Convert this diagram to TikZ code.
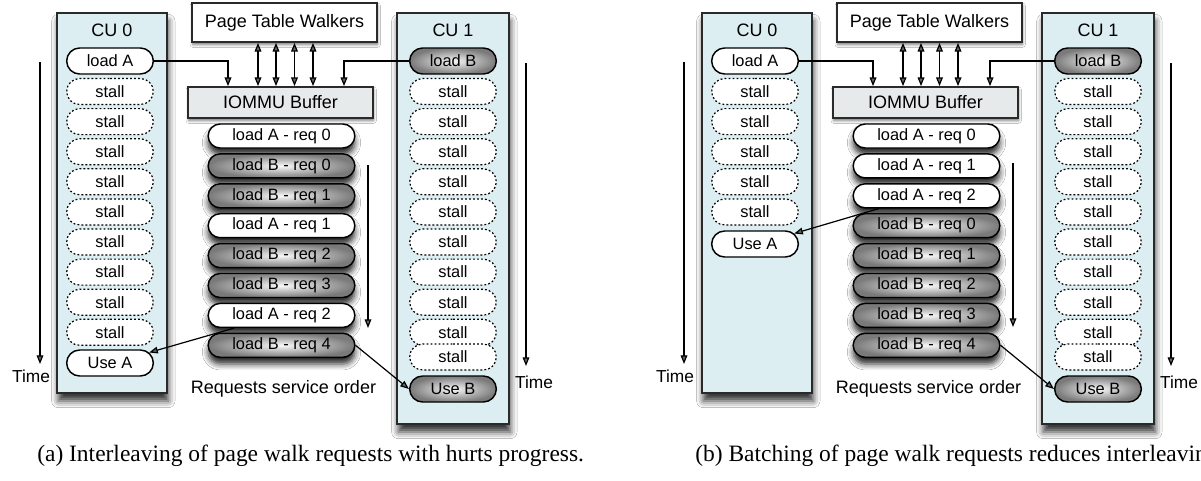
\documentclass[tikz,border=0pt]{standalone}
\usepackage{fontspec}
\setmainfont{Liberation Sans}
\newfontfamily\captionserif{Liberation Serif}
\usetikzlibrary{shapes.misc,arrows.meta,shadows.blur}
\definecolor{cubg}{HTML}{DCEEF1}
\definecolor{bufbg}{HTML}{E6EAEA}
\definecolor{edge}{HTML}{2A2A2A}

\begin{document}
\begin{tikzpicture}[x=0.75pt,y=-0.75pt,
  cubox/.style={draw=edge,line width=1.3pt,fill=cubg,
    blur shadow={shadow xshift=1pt,shadow yshift=-6pt,shadow blur radius=5pt,shadow opacity=80}},
  topbox/.style={draw=edge,line width=1.3pt,
    blur shadow={shadow xshift=0.5pt,shadow yshift=-2pt,shadow blur radius=2pt,shadow opacity=50}},
  lbl/.style={font=\fontsize{13.5}{16}\selectfont},
  timelbl/.style={font=\fontsize{13}{15}\selectfont},
  pill/.style={rounded rectangle,draw=black,line width=1.1pt,minimum width=65pt,
    minimum height=19.5pt,inner sep=0pt,font=\fontsize{12.3}{14}\selectfont},
  plainpill/.style={pill,fill=white},
  graypill/.style={pill,inner color=gray!5,outer color=black!52},
  stallbox/.style={pill,fill=white,line width=0.9pt,dash pattern=on 1.4pt off 1.6pt},
  req/.style={pill,minimum width=110pt,minimum height=18pt,
    blur shadow={shadow xshift=0pt,shadow yshift=-5pt,shadow blur radius=4.5pt,shadow opacity=85}},
  reqa/.style={req,fill=white},
  reqb/.style={req,inner color=gray!5,outer color=black!52},
  arr/.style={-{Triangle[length=6.5pt,width=5pt]},line width=0.9pt},
  dbl/.style={{Triangle[length=6.5pt,width=5pt]}-{Triangle[length=6.5pt,width=5pt]},line width=0.9pt},
  capt/.style={anchor=west,inner sep=0pt,font=\captionserif\fontsize{17.6}{20}\selectfont},
]
\fill[white] (0,0) rectangle (1201,480);
\useasboundingbox (0,0) rectangle (1201,480);

% ---------------- (a) interleaved requests ----------------
\begin{scope}
  % compute units
  \path[cubox] (57,13) rectangle (167,393);
  \path[cubox] (397,13) rectangle (509,424);
  \node[lbl] (acu0) at (112,30) {CU 0};
  \node[lbl] (acu1) at (453,30) {CU 1};

  \node[plainpill] (aldA) at (110,61) {load A};
  \foreach \i in {0,...,8} \node[stallbox] (aa\i) at (110,{91.5+30.1*\i}) {stall};
  \node[plainpill] (auseA) at (110,363) {Use A};

  \node[graypill] (aldB) at (453,61) {load B};
  \foreach \i in {0,...,8} \node[stallbox] (ab\i) at (453,{91.5+30.1*\i}) {stall};
  \node[stallbox] (ab9) at (453,357) {stall};
  \node[graypill] (auseB) at (453,389) {Use B};

  % walkers and buffer
  \node[topbox,fill=white,minimum width=138.75pt,minimum height=29.25pt,inner sep=0pt,lbl]
    (aptw) at (284.5,22.5) {Page Table Walkers};
  \node[topbox,fill=bufbg,minimum width=138.75pt,minimum height=23.25pt,inner sep=0pt,lbl]
    (abuf) at (280.5,102.5) {IOMMU Buffer};
  \foreach \x [count=\k] in {258,276,294.5,313} {
    \coordinate (aw\k) at (\x,0);
    \draw[dbl] (aptw.south -| aw\k) -- (abuf.north -| aw\k);
  }
  \coordinate (ainA) at (228,0);
  \coordinate (ainB) at (344,0);
  \draw[arr] (aldA.east) -| (abuf.north -| ainA);
  \draw[arr] (aldB.west) -| (abuf.north -| ainB);

  % service order
  \node[reqa] (ar0) at (281.5,136)   {load A - req 0};
  \node[reqb] (ar1) at (281.5,165.9) {load B - req 0};
  \node[reqb] (ar2) at (281.5,195.8) {load B - req 1};
  \node[reqa] (ar3) at (281.5,225.7) {load A - req 1};
  \node[reqb] (ar4) at (281.5,255.6) {load B - req 2};
  \node[reqb] (ar5) at (281.5,285.5) {load B - req 3};
  \node[reqa] (ar6) at (281.5,315.4) {load A - req 2};
  \node[reqb] (ar7) at (281.5,345.3) {load B - req 4};
  \draw[arr] (ar6.195) -- (auseA.15);
  \draw[arr] (ar7.east) -- (auseB.west);

  \coordinate (aso1) at (368,165);
  \coordinate (aso2) at (368,328);
  \draw[arr] (aso1) -- (aso2);
  \node[lbl] (aso) at (283.5,389) {Requests service order};

  \coordinate (at1) at (40,62);
  \coordinate (at2) at (40,364);
  \draw[arr] (at1) -- (at2);
  \node[timelbl] (atime) at (31,376) {Time};
  \coordinate (at3) at (526,63);
  \coordinate (at4) at (526,366);
  \draw[arr] (at3) -- (at4);
  \node[timelbl] (atime1) at (534,382) {Time};

  \node[capt] (capa) at (37,456) {(a) Interleaving of page walk requests with hurts progress.};
\end{scope}

% ---------------- (b) batched requests ----------------
\begin{scope}[xshift=483.75pt]
  \path[cubox] (57,13) rectangle (167,393);
  \path[cubox] (397,13) rectangle (509,424);
  \node[lbl] (bcu0) at (112,30) {CU 0};
  \node[lbl] (bcu1) at (453,30) {CU 1};

  \node[plainpill] (bldA) at (110,61) {load A};
  \foreach \i in {0,...,4} \node[stallbox] (ba\i) at (110,{91.5+30.1*\i}) {stall};
  \node[plainpill] (buseA) at (110,244) {Use A};

  \node[graypill] (bldB) at (453,61) {load B};
  \foreach \i in {0,...,8} \node[stallbox] (bb\i) at (453,{91.5+30.1*\i}) {stall};
  \node[stallbox] (bb9) at (453,357) {stall};
  \node[graypill] (buseB) at (453,389) {Use B};

  \node[topbox,fill=white,minimum width=138.75pt,minimum height=29.25pt,inner sep=0pt,lbl]
    (bptw) at (284.5,22.5) {Page Table Walkers};
  \node[topbox,fill=bufbg,minimum width=138.75pt,minimum height=23.25pt,inner sep=0pt,lbl]
    (bbuf) at (280.5,102.5) {IOMMU Buffer};
  \foreach \x [count=\k] in {258,276,294.5,313} {
    \coordinate (bw\k) at (\x,0);
    \draw[dbl] (bptw.south -| bw\k) -- (bbuf.north -| bw\k);
  }
  \coordinate (binA) at (228,0);
  \coordinate (binB) at (345,0);
  \draw[arr] (bldA.east) -| (bbuf.north -| binA);
  \draw[arr] (bldB.west) -| (bbuf.north -| binB);

  \node[reqa] (br0) at (281.5,136)   {load A - req 0};
  \node[reqa] (br1) at (281.5,165.9) {load A - req 1};
  \node[reqa] (br2) at (281.5,195.8) {load A - req 2};
  \node[reqb] (br3) at (281.5,225.7) {load B - req 0};
  \node[reqb] (br4) at (281.5,255.6) {load B - req 1};
  \node[reqb] (br5) at (281.5,285.5) {load B - req 2};
  \node[reqb] (br6) at (281.5,315.4) {load B - req 3};
  \node[reqb] (br7) at (281.5,345.3) {load B - req 4};
  \draw[arr] (br2.195) -- (buseA.15);
  \draw[arr] (br7.east) -- (buseB.west);

  \coordinate (bso1) at (368,163);
  \coordinate (bso2) at (368,327);
  \draw[arr] (bso1) -- (bso2);
  \node[lbl] (bso) at (283.5,389) {Requests service order};

  \coordinate (bt1) at (39,62);
  \coordinate (bt2) at (39,364);
  \draw[arr] (bt1) -- (bt2);
  \node[timelbl] (btime) at (30,376) {Time};
  \coordinate (bt3) at (526,63);
  \coordinate (bt4) at (526,366);
  \draw[arr] (bt3) -- (bt4);
  \node[timelbl] (btime1) at (534,382) {Time};

  \node[capt] (capb) at (50,456) {(b) Batching of page walk requests reduces interleaving.};
\end{scope}
\end{tikzpicture}
\end{document}
